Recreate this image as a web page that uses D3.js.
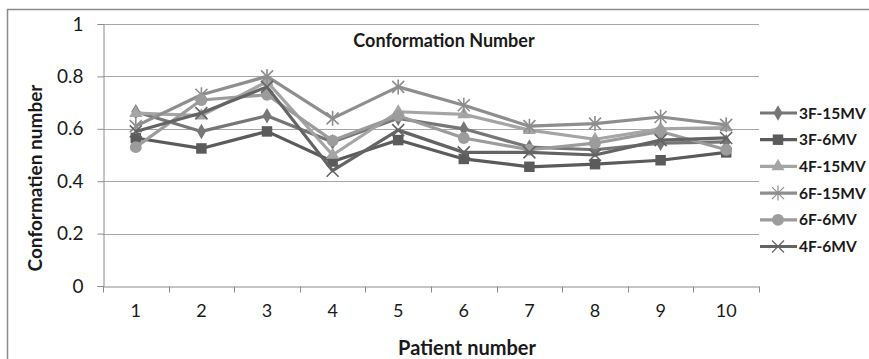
<!DOCTYPE html>
<html>
<head>
<meta charset="utf-8">
<script src="https://cdn.jsdelivr.net/npm/d3@7"></script>
<style>
  body { margin: 0; background: #fff; }
  text { font-family: Lato, "Noto Sans", sans-serif; fill: #1a1a1a; }
</style>
</head>
<body>
<script>
  // chart values
  var patients = [1, 2, 3, 4, 5, 6, 7, 8, 9, 10];
  var seriesNames = ["3F-15MV", "3F-6MV", "4F-15MV", "6F-15MV", "6F-6MV", "4F-6MV"];
  var v3F15MV = [0.665, 0.59, 0.65, 0.55, 0.64, 0.60, 0.53, 0.52, 0.545, 0.55];
  var v3F6MV  = [0.565, 0.525, 0.59, 0.475, 0.557, 0.485, 0.455, 0.465, 0.48, 0.51];
  var v4F15MV = [0.66, 0.65, 0.78, 0.50, 0.665, 0.655, 0.595, 0.56, 0.60, 0.605];
  var v6F15MV = [0.61, 0.73, 0.80, 0.64, 0.76, 0.69, 0.61, 0.62, 0.645, 0.615];
  var v6F6MV  = [0.53, 0.71, 0.73, 0.555, 0.65, 0.565, 0.52, 0.545, 0.59, 0.52];
  var v4F6MV  = [0.59, 0.66, 0.76, 0.44, 0.595, 0.51, 0.51, 0.50, 0.557, 0.565];
  var yTicks = [0, 0.2, 0.4, 0.6, 0.8, 1];

  (function () {
  var allValues = [v3F15MV, v3F6MV, v4F15MV, v6F15MV, v6F6MV, v4F6MV];
  var colors = ["#767676", "#5b5b5b", "#a5a5a5", "#8e8e8e", "#9c9c9c", "#646464"];
  var markers = ["diamond", "square", "triangle", "star", "circle", "cross"];

  var W = 869, H = 359;
  var pLeft = 103, pRight = 759, pTop = 24, pBottom = 286;

  var svg = d3.select("body").append("svg")
      .attr("width", W).attr("height", H);

  // outer chart border (cut off at right/bottom like the picture)
  svg.append("rect")
      .attr("x", 7.5).attr("y", 9.5)
      .attr("width", 880).attr("height", 380)
      .attr("fill", "none").attr("stroke", "#8c8c8c").attr("stroke-width", 1.5);

  var x = d3.scaleBand().domain(patients).range([pLeft, pRight]);
  var y = d3.scaleLinear().domain([0, 1]).range([pBottom, pTop]);

  // gridlines
  svg.append("g").selectAll("line")
    .data(yTicks.filter(function (d) { return d > 0; }))
    .enter().append("line")
      .attr("x1", pLeft).attr("x2", pRight)
      .attr("y1", function (d) { return Math.round(y(d)) + 0.5; })
      .attr("y2", function (d) { return Math.round(y(d)) + 0.5; })
      .attr("stroke", "#a6a6a6").attr("stroke-width", 1);

  // y axis
  var yAxis = svg.append("g")
      .attr("transform", "translate(" + (pLeft + 0.5) + ",0)")
      .call(d3.axisLeft(y).tickValues(yTicks).tickSize(6).tickPadding(14)
        .tickFormat(function (d) { return d === 0 || d === 1 ? d : d3.format(".1f")(d); }));
  yAxis.select(".domain").attr("stroke", "#8c8c8c");
  yAxis.selectAll(".tick line").attr("stroke", "#8c8c8c");
  yAxis.selectAll(".tick text")
      .style("font-size", "19px").attr("fill", "#1a1a1a");

  // x axis
  var xAxis = svg.append("g")
      .attr("transform", "translate(0," + (pBottom + 0.5) + ")")
      .call(d3.axisBottom(x).tickSize(0).tickPadding(18));
  xAxis.select(".domain").attr("stroke", "#8c8c8c");
  xAxis.selectAll(".tick text")
      .style("font-size", "18px").attr("fill", "#1a1a1a");
  // tick marks between categories
  xAxis.selectAll(".sep")
    .data(patients.concat([null]))
    .enter().append("line")
      .attr("x1", function (d, i) { return Math.round(pLeft + i * x.step()) + 0.5; })
      .attr("x2", function (d, i) { return Math.round(pLeft + i * x.step()) + 0.5; })
      .attr("y1", 0).attr("y2", 6)
      .attr("stroke", "#8c8c8c");

  // titles
  svg.append("text")
      .attr("x", 444).attr("y", 47)
      .attr("text-anchor", "middle")
      .style("font-size", "18px").style("font-weight", "bold")
      .text("Conformation Number");

  svg.append("text")
      .attr("transform", "translate(42,178) rotate(-90)")
      .attr("text-anchor", "middle")
      .style("font-size", "19px").style("font-weight", "bold")
      .text("Conformatien number");

  svg.append("text")
      .attr("x", 467).attr("y", 355)
      .attr("text-anchor", "middle")
      .style("font-size", "20px").style("font-weight", "bold")
      .text("Patient number");

  function markerPath(kind) {
    if (kind === "diamond") return d3.symbol(d3.symbolDiamond, 70)();
    if (kind === "square") return d3.symbol(d3.symbolSquare, 110)();
    if (kind === "triangle") return d3.symbol(d3.symbolTriangle, 75)();
    if (kind === "circle") return d3.symbol(d3.symbolCircle, 110)();
    if (kind === "star") return "M-6,-6L6,6M-6,6L6,-6M0,-7.5L0,7.5";
    return "M-6,-6L6,6M-6,6L6,-6";
  }
  function isStroke(kind) { return kind === "star" || kind === "cross"; }

  var line = d3.line()
      .x(function (d) { return x(d.p) + x.bandwidth() / 2; })
      .y(function (d) { return y(d.v); });

  seriesNames.forEach(function (name, i) {
    var pts = patients.map(function (p, j) { return { p: p, v: allValues[i][j] }; });
    var g = svg.append("g");
    g.append("path")
        .datum(pts)
        .attr("d", line)
        .attr("fill", "none")
        .attr("stroke", colors[i]).attr("stroke-width", 3.2)
        .attr("stroke-linejoin", "round");
    g.selectAll(".m")
      .data(pts)
      .enter().append("path")
        .attr("transform", function (d) {
          return "translate(" + (x(d.p) + x.bandwidth() / 2) + "," + y(d.v) + ")";
        })
        .attr("d", markerPath(markers[i]))
        .attr("fill", isStroke(markers[i]) ? "none" : colors[i])
        .attr("stroke", colors[i])
        .attr("stroke-width", isStroke(markers[i]) ? 1.6 : 0);
  });

  // legend
  var legend = svg.append("g");
  seriesNames.forEach(function (name, i) {
    var ly = 113 + i * 26.7;
    legend.append("line")
        .attr("x1", 760).attr("x2", 797)
        .attr("y1", ly).attr("y2", ly)
        .attr("stroke", colors[i]).attr("stroke-width", 3.2);
    legend.append("path")
        .attr("transform", "translate(778," + ly + ")")
        .attr("d", markerPath(markers[i]))
        .attr("fill", isStroke(markers[i]) ? "none" : colors[i])
        .attr("stroke", colors[i])
        .attr("stroke-width", isStroke(markers[i]) ? 1.2 : 0);
    legend.append("text")
        .attr("x", 799).attr("y", ly + 5.5)
        .style("font-size", "15.5px").style("font-weight", "bold")
        .text(name);
  });
  })();
</script>
</body>
</html>
